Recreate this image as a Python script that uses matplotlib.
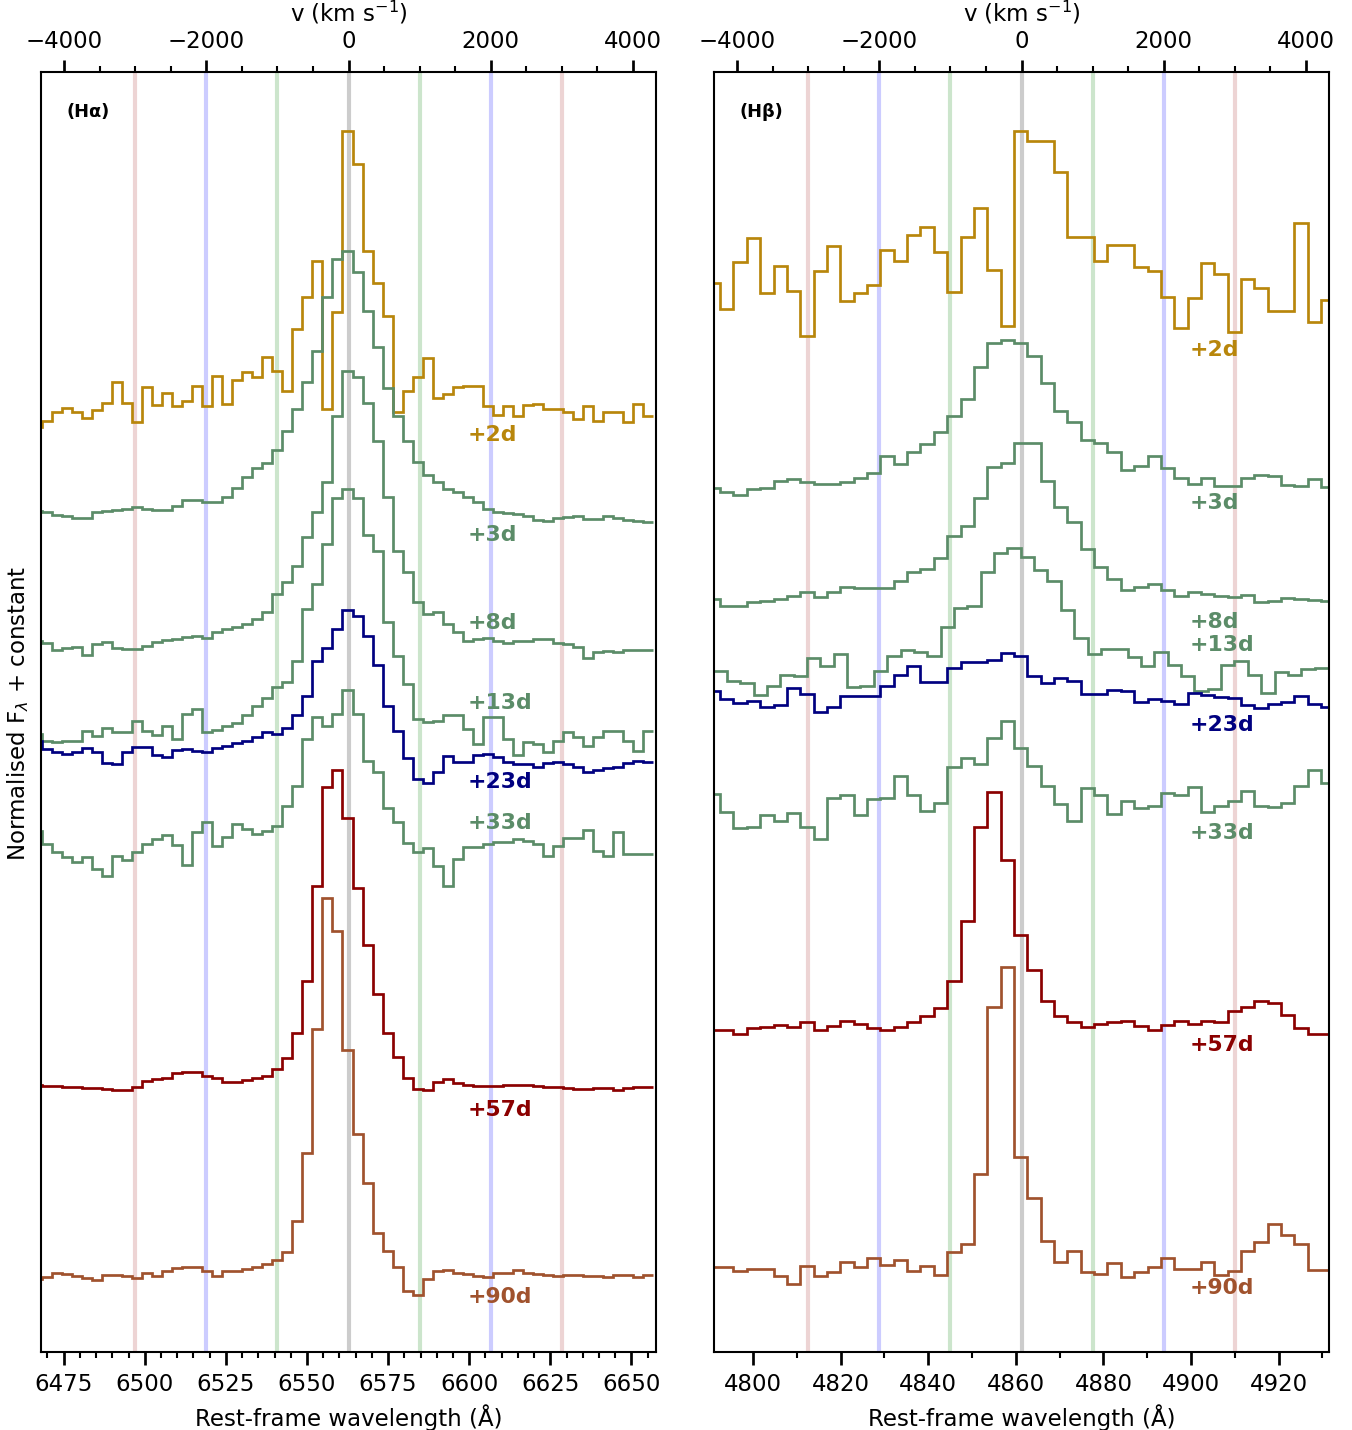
import numpy as np
import matplotlib.pyplot as plt
from matplotlib.ticker import MultipleLocator, FixedLocator

C_KMS = 299792.458
VMAX = 4330.0

# rest wavelengths of the two lines
ha_rest = 6562.8
hb_rest = 4861.3

# bin-centre grids (start, step) of the binned spectra
ha_start, ha_step = 6466.7, 3.09
hb_start, hb_step = 4790.95, 3.05
hb13_start = 4792.5

phases = ['+2d', '+3d', '+8d', '+13d', '+23d', '+33d', '+57d', '+90d']
colours = ['#b8860b', '#5b8c68', '#5b8c68', '#5b8c68', '#000080',
           '#5b8c68', '#8b0000', '#a0522d']

# H-alpha: normalised flux + constant
ha_2d = [9.25, 9.31, 9.40, 9.44, 9.40, 9.34, 9.42, 9.49, 9.70, 9.49,
         9.30, 9.65, 9.47, 9.59, 9.46, 9.51, 9.66, 9.46, 9.76, 9.48,
         9.72, 9.80, 9.75, 9.95, 9.81, 9.61, 10.23, 10.55, 10.91, 9.43,
         10.40, 12.21, 11.88, 11.01, 10.69, 10.36, 9.40, 9.61, 9.75, 9.94,
         9.54, 9.58, 9.65, 9.66, 9.66, 9.46, 9.37, 9.46, 9.36, 9.47,
         9.48, 9.43, 9.43, 9.40, 9.33, 9.46, 9.31, 9.40, 9.40, 9.30,
         9.48, 9.36]
ha_3d = [8.41, 8.40, 8.37, 8.36, 8.34, 8.34, 8.40, 8.41, 8.42, 8.43,
         8.45, 8.43, 8.42, 8.42, 8.46, 8.52, 8.52, 8.50, 8.50, 8.55,
         8.64, 8.75, 8.84, 8.89, 9.02, 9.21, 9.43, 9.70, 10.01, 10.55,
         10.93, 11.01, 10.80, 10.41, 10.05, 9.64, 9.36, 9.11, 8.90, 8.77,
         8.70, 8.63, 8.60, 8.55, 8.50, 8.43, 8.40, 8.39, 8.38, 8.36,
         8.32, 8.31, 8.34, 8.35, 8.36, 8.33, 8.33, 8.36, 8.34, 8.32,
         8.31, 8.30]
ha_8d = [7.11, 7.09, 7.02, 7.04, 7.05, 6.97, 7.08, 7.10, 7.04, 7.03,
         7.03, 7.06, 7.10, 7.12, 7.13, 7.15, 7.16, 7.14, 7.20, 7.23,
         7.25, 7.28, 7.33, 7.40, 7.58, 7.70, 7.86, 8.15, 8.40, 8.70,
         9.36, 9.81, 9.75, 9.49, 9.11, 8.55, 8.01, 7.80, 7.50, 7.38,
         7.40, 7.28, 7.20, 7.11, 7.13, 7.14, 7.11, 7.09, 7.11, 7.11,
         7.13, 7.13, 7.09, 7.08, 7.05, 6.94, 7.00, 7.01, 7.00, 7.02,
         7.02, 7.02]
ha_13d = [6.18, 6.11, 6.10, 6.11, 6.11, 6.21, 6.16, 6.24, 6.20, 6.20,
          6.31, 6.21, 6.17, 6.26, 6.13, 6.38, 6.43, 6.20, 6.22, 6.26,
          6.29, 6.37, 6.46, 6.54, 6.65, 6.70, 6.91, 7.43, 7.68, 8.08,
          8.54, 8.63, 8.54, 8.17, 8.01, 7.30, 6.96, 6.68, 6.33, 6.30,
          6.31, 6.37, 6.37, 6.23, 6.08, 6.35, 6.35, 6.13, 5.97, 6.10,
          6.08, 6.00, 6.11, 6.20, 6.15, 6.06, 6.15, 6.21, 6.21, 6.11,
          6.01, 6.21]
ha_23d = [6.11, 6.03, 6.00, 5.98, 6.00, 6.04, 6.00, 5.89, 5.88, 6.00,
          6.05, 6.05, 5.97, 5.95, 6.02, 6.03, 6.01, 6.00, 6.04, 6.06,
          6.09, 6.11, 6.15, 6.20, 6.18, 6.24, 6.37, 6.56, 6.91, 7.04,
          7.23, 7.42, 7.36, 7.16, 6.87, 6.46, 6.21, 5.94, 5.73, 5.69,
          5.80, 5.96, 5.90, 5.90, 5.97, 5.98, 5.95, 5.90, 5.88, 5.88,
          5.85, 5.89, 5.90, 5.88, 5.85, 5.80, 5.82, 5.84, 5.85, 5.89,
          5.91, 5.90]
ha_33d = [5.21, 5.08, 5.00, 4.95, 4.90, 4.95, 4.83, 4.76, 4.96, 4.92,
          5.00, 5.08, 5.13, 5.17, 5.07, 4.87, 5.20, 5.30, 5.06, 5.15,
          5.28, 5.23, 5.18, 5.21, 5.26, 5.46, 5.66, 6.13, 6.35, 6.26,
          6.38, 6.62, 6.38, 5.91, 5.80, 5.44, 5.30, 5.09, 5.00, 5.04,
          4.86, 4.66, 4.93, 5.05, 5.05, 5.08, 5.10, 5.10, 5.13, 5.11,
          5.08, 4.96, 5.06, 5.14, 5.14, 5.22, 5.01, 4.96, 5.20, 4.98,
          4.98, 4.98]
ha_57d = [2.67, 2.66, 2.66, 2.65, 2.65, 2.64, 2.64, 2.63, 2.62, 2.62,
          2.65, 2.71, 2.73, 2.74, 2.79, 2.80, 2.80, 2.76, 2.74, 2.70,
          2.70, 2.72, 2.74, 2.76, 2.83, 2.94, 3.19, 3.71, 4.66, 5.65,
          5.82, 5.34, 4.64, 4.07, 3.58, 3.19, 2.95, 2.74, 2.63, 2.62,
          2.70, 2.73, 2.69, 2.67, 2.66, 2.66, 2.66, 2.67, 2.67, 2.67,
          2.66, 2.65, 2.65, 2.64, 2.63, 2.63, 2.64, 2.64, 2.62, 2.64,
          2.65, 2.65]
ha_90d = [0.73, 0.75, 0.79, 0.78, 0.76, 0.74, 0.72, 0.77, 0.77, 0.76,
          0.74, 0.79, 0.76, 0.81, 0.84, 0.85, 0.85, 0.81, 0.76, 0.81,
          0.81, 0.83, 0.85, 0.88, 0.92, 1.00, 1.31, 1.99, 3.23, 4.54,
          4.21, 3.02, 2.18, 1.69, 1.19, 1.01, 0.85, 0.61, 0.57, 0.73,
          0.81, 0.82, 0.79, 0.78, 0.76, 0.75, 0.79, 0.79, 0.82, 0.79,
          0.78, 0.77, 0.76, 0.77, 0.77, 0.76, 0.76, 0.75, 0.77, 0.77,
          0.75, 0.77]

# H-beta: normalised flux + constant
hb_2d = [10.69, 10.43, 10.90, 11.14, 10.59, 10.86, 10.61, 10.16, 10.81, 11.06,
         10.51, 10.59, 10.67, 11.02, 10.91, 11.17, 11.25, 11.00, 10.60, 11.15,
         11.44, 10.82, 10.26, 12.21, 12.11, 12.11, 11.80, 11.15, 11.15, 10.91,
         11.07, 11.07, 10.85, 10.81, 10.55, 10.24, 10.54, 10.89, 10.78, 10.20,
         10.73, 10.64, 10.41, 10.41, 11.29, 10.30, 10.52]
hb_3d = [8.64, 8.60, 8.57, 8.63, 8.64, 8.71, 8.73, 8.70, 8.68, 8.68,
         8.70, 8.74, 8.79, 8.96, 8.88, 9.00, 9.08, 9.20, 9.36, 9.53,
         9.85, 10.09, 10.12, 10.09, 9.96, 9.69, 9.41, 9.30, 9.12, 9.09,
         9.00, 8.82, 8.86, 8.96, 8.84, 8.74, 8.68, 8.74, 8.66, 8.66,
         8.74, 8.77, 8.76, 8.67, 8.66, 8.73, 8.65]
hb_8d = [7.53, 7.46, 7.46, 7.50, 7.51, 7.53, 7.56, 7.60, 7.55, 7.60,
         7.65, 7.64, 7.64, 7.64, 7.71, 7.80, 7.83, 7.94, 8.16, 8.26,
         8.54, 8.85, 8.89, 9.09, 9.09, 8.71, 8.45, 8.30, 8.03, 7.85,
         7.73, 7.62, 7.65, 7.68, 7.62, 7.56, 7.60, 7.58, 7.56, 7.55,
         7.57, 7.50, 7.51, 7.54, 7.53, 7.52, 7.51]
hb_13d = [6.81, 6.71, 6.69, 6.57, 6.66, 6.77, 6.76, 6.94, 6.86, 6.98,
          6.65, 6.66, 6.81, 6.96, 7.02, 7.00, 6.96, 7.25, 7.44, 7.46,
          7.80, 7.99, 8.04, 7.95, 7.82, 7.71, 7.42, 7.14, 6.98, 7.03,
          7.03, 6.95, 6.86, 7.00, 6.87, 6.76, 6.61, 6.63, 6.87, 6.91,
          6.77, 6.59, 6.80, 6.77, 6.83, 6.84]
hb_23d = [6.61, 6.53, 6.49, 6.51, 6.45, 6.47, 6.64, 6.58, 6.40, 6.45,
          6.56, 6.56, 6.56, 6.66, 6.77, 6.86, 6.70, 6.70, 6.84, 6.90,
          6.90, 6.92, 6.99, 6.96, 6.76, 6.69, 6.74, 6.71, 6.58, 6.58,
          6.62, 6.61, 6.50, 6.53, 6.51, 6.48, 6.59, 6.57, 6.55, 6.54,
          6.47, 6.44, 6.48, 6.50, 6.56, 6.48, 6.45]
hb_33d = [5.58, 5.40, 5.24, 5.25, 5.37, 5.31, 5.39, 5.25, 5.13, 5.54,
          5.57, 5.37, 5.53, 5.54, 5.76, 5.57, 5.41, 5.49, 5.85, 5.94,
          5.88, 6.14, 6.31, 6.04, 5.86, 5.66, 5.48, 5.31, 5.64, 5.57,
          5.38, 5.51, 5.44, 5.46, 5.59, 5.57, 5.65, 5.40, 5.46, 5.51,
          5.61, 5.46, 5.45, 5.49, 5.66, 5.82, 5.69]
hb_57d = [3.22, 3.22, 3.18, 3.24, 3.25, 3.27, 3.25, 3.30, 3.22, 3.26,
          3.31, 3.28, 3.24, 3.22, 3.25, 3.30, 3.36, 3.44, 3.71, 4.31,
          5.25, 5.60, 4.92, 4.17, 3.82, 3.51, 3.36, 3.30, 3.25, 3.28,
          3.30, 3.31, 3.26, 3.22, 3.27, 3.31, 3.28, 3.31, 3.30, 3.41,
          3.45, 3.51, 3.49, 3.37, 3.24, 3.18, 3.18]
hb_90d = [0.85, 0.85, 0.81, 0.83, 0.83, 0.76, 0.68, 0.86, 0.76, 0.80,
          0.90, 0.85, 0.94, 0.87, 0.92, 0.81, 0.86, 0.77, 1.00, 1.08,
          1.78, 3.45, 3.85, 1.95, 1.54, 1.11, 0.90, 1.01, 0.80, 0.78,
          0.89, 0.75, 0.80, 0.85, 0.94, 0.83, 0.83, 0.90, 0.77, 0.81,
          1.01, 1.10, 1.28, 1.17, 1.08, 0.82, 0.82]

# label heights (same units as the spectra)
ha_label_y = [9.18, 8.18, 7.30, 6.50, 5.71, 5.30, 2.43, 0.56]
hb_label_y = [10.03, 8.50, 7.31, 7.08, 6.28, 5.20, 3.08, 0.65]

# velocity marker lines
marker_v = [-3000, -2000, -1000, 0, 1000, 2000, 3000]
marker_c = ['brown', 'blue', 'green', 'gray', 'green', 'blue', 'brown']
marker_a = [0.2, 0.2, 0.2, 0.4, 0.2, 0.2, 0.2]

vel_major = [-4000, -2000, 0, 2000, 4000]
vel_minor = [-3500, -3000, -2500, -1500, -1000, -500,
             500, 1000, 1500, 2500, 3000, 3500]

ha_flux = [ha_2d, ha_3d, ha_8d, ha_13d, ha_23d, ha_33d, ha_57d, ha_90d]
hb_flux = [hb_2d, hb_3d, hb_8d, hb_13d, hb_23d, hb_33d, hb_57d, hb_90d]
hb_starts = [hb_start, hb_start, hb_start, hb13_start, hb_start, hb_start,
             hb_start, hb_start]

plt.rcParams['font.size'] = 11

fig = plt.figure(figsize=(1352 / 150, 1431 / 150), dpi=150)
ax_a = fig.add_axes([41 / 1352, 78 / 1431, 615 / 1352, 1280 / 1431])
ax_b = fig.add_axes([714 / 1352, 78 / 1431, 615 / 1352, 1280 / 1431])

panels = [
    (ax_a, ha_rest, ha_flux, [ha_start] * 8, ha_step, ha_label_y, 0.694,
     '(H\u03b1)', 25, 5),
    (ax_b, hb_rest, hb_flux, hb_starts, hb_step, hb_label_y, 0.773,
     '(H\u03b2)', 20, 10),
]

for ax, rest, fluxes, starts, step, label_y, lab_x, name, maj, mnr in panels:
    for v, c, a in zip(marker_v, marker_c, marker_a):
        ax.axvline(rest * (1 + v / C_KMS), color=c, alpha=a, lw=2, zorder=0)

    for flux, start, col, ph, ly in zip(fluxes, starts, colours, phases, label_y):
        edges = start - step / 2 + step * np.arange(len(flux) + 1)
        ax.stairs(flux, edges, baseline=None, color=col, lw=1.3)
        ax.text(lab_x, ly, ph, color=col, fontweight='bold', fontsize=10.5,
                va='center', ha='left', transform=ax.get_yaxis_transform())

    ax.set_xlim(rest * (1 - VMAX / C_KMS), rest * (1 + VMAX / C_KMS))
    ax.set_ylim(0, 12.8)
    ax.set_yticks([])
    ax.xaxis.set_major_locator(MultipleLocator(maj))
    ax.xaxis.set_minor_locator(MultipleLocator(mnr))
    ax.tick_params(which='major', direction='out', length=6, width=1.3)
    ax.tick_params(which='minor', direction='out', length=3, width=1)
    ax.set_xlabel('Rest-frame wavelength (\u00c5)')
    ax.text(0.041, 0.9695, name, transform=ax.transAxes, fontweight='bold',
            fontsize=8.5, va='center', ha='left')
    for sp in ax.spines.values():
        sp.set_linewidth(1.0)

    sec = ax.secondary_xaxis(
        'top',
        functions=(lambda w, r=rest: (w / r - 1) * C_KMS,
                   lambda v, r=rest: r * (1 + v / C_KMS)))
    sec.xaxis.set_major_locator(FixedLocator(vel_major))
    sec.xaxis.set_minor_locator(FixedLocator(vel_minor))
    sec.tick_params(which='major', direction='out', length=6, width=1.3)
    sec.tick_params(which='minor', direction='out', length=3, width=1)
    sec.set_xlabel('v (km s$^{-1}$)')

ax_a.set_ylabel('Normalised F$_\\lambda$ + constant', labelpad=5)

fig.savefig('out.png', dpi=150)
